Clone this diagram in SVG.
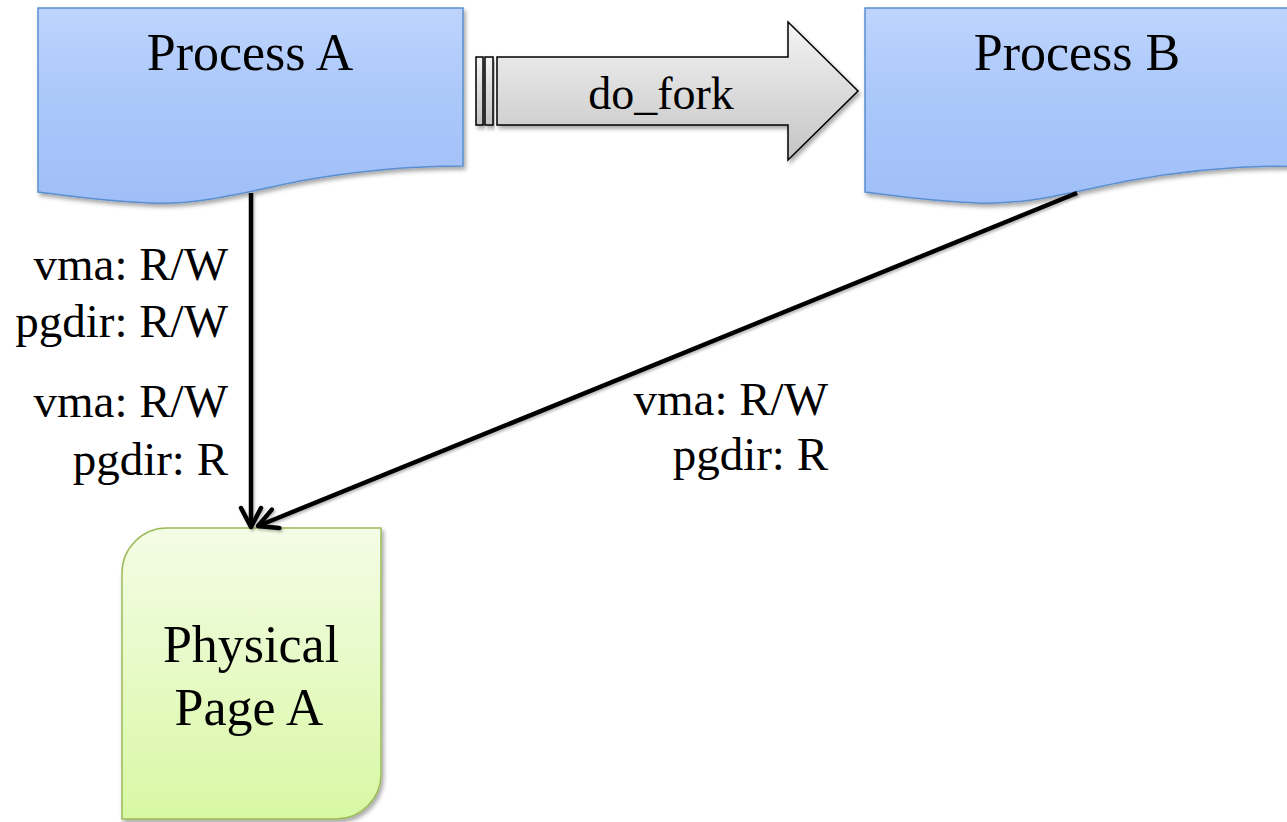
<svg xmlns="http://www.w3.org/2000/svg" width="1287" height="822" viewBox="0 0 1287 822">
  <defs>
    <linearGradient id="procFill" x1="0" y1="0" x2="0" y2="1">
      <stop offset="0" stop-color="#bed4fd"/>
      <stop offset="0.45" stop-color="#abc8fa"/>
      <stop offset="1" stop-color="#a0bff8"/>
    </linearGradient>
    <linearGradient id="pageFill" x1="0" y1="0" x2="0" y2="1">
      <stop offset="0" stop-color="#f4fce6"/>
      <stop offset="1" stop-color="#d8f8a4"/>
    </linearGradient>
    <linearGradient id="forkFill" x1="0" y1="0" x2="0" y2="1">
      <stop offset="0" stop-color="#f4f4f4"/>
      <stop offset="1" stop-color="#c4c4c4"/>
    </linearGradient>
    <filter id="shadow" x="-10%" y="-10%" width="130%" height="140%">
      <feDropShadow dx="2" dy="3" stdDeviation="2" flood-color="#000" flood-opacity="0.35"/>
    </filter>
    <filter id="lineShadow" x="-10%" y="-10%" width="130%" height="130%">
      <feDropShadow dx="1.5" dy="2" stdDeviation="1.2" flood-color="#000" flood-opacity="0.25"/>
    </filter>
    <marker id="openArrow" viewBox="0 0 26 26" refX="22" refY="13" markerWidth="26" markerHeight="26" markerUnits="userSpaceOnUse" orient="auto">
      <path d="M3,3 L22,13 L3,23" fill="none" stroke="#000" stroke-width="4.5" stroke-linecap="round" stroke-linejoin="round"/>
    </marker>
    <style>
      .proc { fill: url(#procFill); stroke: #5a8ed0; stroke-width: 1.5; filter: url(#shadow); }
      .page { fill: url(#pageFill); stroke: #9bbb59; stroke-width: 1.5; filter: url(#shadow); }
      .fork { fill: url(#forkFill); stroke: #000; stroke-width: 1.5; filter: url(#shadow); }
      .title { font-family: "Liberation Serif", "Times New Roman", serif; font-size: 52px; fill: #000; text-anchor: middle; }
      .title.small { font-size: 46px; }
      .label { font-family: "Liberation Serif", "Times New Roman", serif; font-size: 47px; fill: #000; text-anchor: end; }
      .edge { fill: none; stroke: #000; stroke-width: 4.5; marker-end: url(#openArrow); }
    </style>
  </defs>

  <rect width="1287" height="822" fill="#fff"/>

  <g id="process-a">
    <path class="proc" d="M38,8 H463 V166 C410,166 350,172 300,181 C240,193 200,205 150,203 C100,201 70,196 38,192 Z"/>
    <text class="title" x="250" y="70">Process A</text>
  </g>

  <g id="process-b">
    <path class="proc" d="M865,8 H1290 V166 C1237,166 1177,172 1127,181 C1067,193 1027,205 977,203 C927,201 897,196 865,192 Z"/>
    <text class="title" x="1077" y="70">Process B</text>
  </g>

  <g id="do-fork">
    <rect class="fork" x="476" y="57" width="7" height="68"/>
    <rect class="fork" x="485" y="57" width="8" height="68"/>
    <path class="fork" d="M497,57 H788 V22 L858,91 L788,160 V125 H497 Z"/>
    <text class="title small" x="661" y="109">do_fork</text>
  </g>

  <g id="physical-page-a">
    <path class="page" d="M167,528 H381 V774 A45,45 0 0 1 336,819 H122 V573 A45,45 0 0 1 167,528 Z"/>
    <text class="title" x="251" y="662">Physical</text>
    <text class="title" x="249" y="725">Page A</text>
  </g>

  <g id="connectors" filter="url(#lineShadow)">
    <line class="edge" x1="251" y1="193" x2="251" y2="527"/>
    <line class="edge" x1="1077" y1="193" x2="258" y2="526"/>
  </g>

  <g id="edge-labels">
    <text class="label" x="228" y="280">vma: R/W</text>
    <text class="label" x="228" y="337">pgdir: R/W</text>
    <text class="label" x="228" y="417">vma: R/W</text>
    <text class="label" x="228" y="475">pgdir: R</text>
    <text class="label" x="828" y="415">vma: R/W</text>
    <text class="label" x="828" y="470">pgdir: R</text>
  </g>
</svg>
